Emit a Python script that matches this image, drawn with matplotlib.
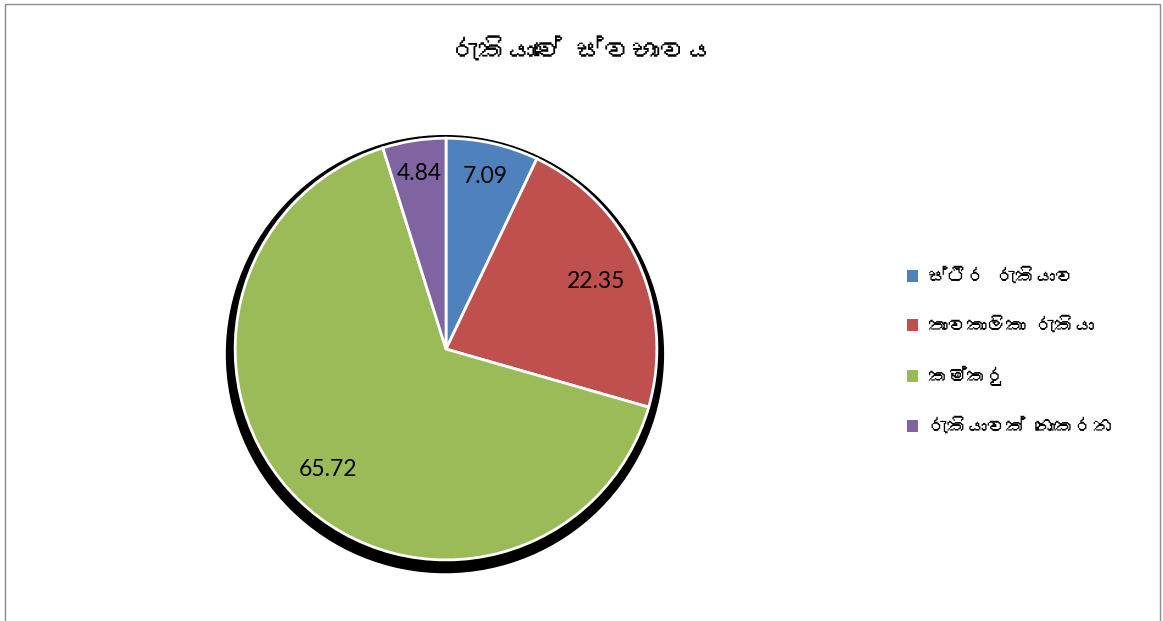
import matplotlib
matplotlib.use("Agg")
import numpy as np
import matplotlib.pyplot as plt
from matplotlib import font_manager
from matplotlib.ft2font import FT2Font
from matplotlib.patches import Circle, Rectangle, Patch

# data
labels = ["ස්ථිර රැකියාව", "තාවකාලිකා රැකියා", "කම්කරු", "රැකියාවක් නොකරන"]
values = [7.09, 22.35, 65.72, 4.84]
colors = ["#4F81BD", "#C0504D", "#9BBB59", "#8064A2"]
title = "රැකියාවේ ස්වභාවය"

# how far out each value label sits (fraction of radius)
label_dist = [0.84, 0.78, 0.80, 0.84]


def sinhala_font():
    # look for an installed font that has Sinhala glyphs
    for f in font_manager.fontManager.ttflist:
        try:
            if 0x0DBB in FT2Font(f.fname).get_charmap():
                return f.name
        except Exception:
            pass
    return None


si = sinhala_font()
si_family = [si, "DejaVu Sans"] if si else ["DejaVu Sans"]

fig = plt.figure(figsize=(11.63, 6.21), dpi=100)
fig.patches.append(Rectangle((5 / 1163, -0.01), 1155 / 1163, 1 - 4 / 621 + 0.01,
                             transform=fig.transFigure, fill=False,
                             edgecolor="#8c8c8c", linewidth=1))

ax = fig.add_axes([0.184, 0.0644, 0.399, 0.747])
ax.add_patch(Circle((-0.005, -0.024), 1.036, color="black", zorder=0))
wedges, texts, autotexts = ax.pie(values, colors=colors, startangle=90,
                                  counterclock=False, radius=1,
                                  autopct=lambda p: "{:.2f}".format(p),
                                  pctdistance=0.83,
                                  wedgeprops=dict(edgecolor="white", linewidth=2))
for w, t, d in zip(wedges, autotexts, label_dist):
    ang = np.deg2rad((w.theta1 + w.theta2) / 2)
    t.set_position((d * np.cos(ang), d * np.sin(ang)))
    t.set_fontsize(16.5)
    t.set_family("Lato")
    t.set_color("black")
ax.set_xlim(-1.1, 1.1)
ax.set_ylim(-1.1, 1.1)
ax.set_aspect("equal")
ax.axis("off")

fig.text(0.501, 0.918, title, ha="center", va="center", fontsize=20,
         fontweight="bold", family=si_family)

handles = [Patch(facecolor=c, edgecolor="none") for c in colors]
fig.legend(handles, labels, loc="upper left", bbox_to_anchor=(0.765, 0.597),
           frameon=False, prop=dict(family=si_family, size=14),
           handlelength=0.55, handleheight=0.55, handletextpad=0.5,
           labelspacing=1.62)

plt.savefig("out.png", dpi=100)
